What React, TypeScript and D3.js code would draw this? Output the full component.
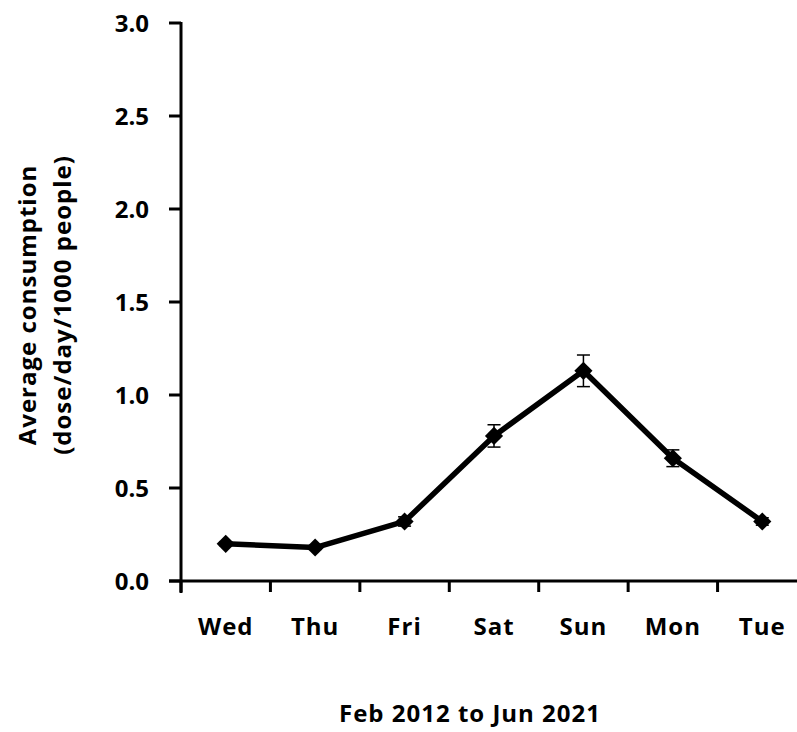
import React from "react";
import * as d3 from "d3";

const days = ["Wed", "Thu", "Fri", "Sat", "Sun", "Mon", "Tue"];
const values = [0.2, 0.18, 0.32, 0.78, 1.13, 0.66, 0.32];
const errors = [0.01, 0.01, 0.025, 0.06, 0.085, 0.045, 0.02];
const yTicks = [0, 0.5, 1.0, 1.5, 2.0, 2.5, 3.0];
const xTitle = "Feb 2012 to Jun 2021";
const yTitle = ["Average consumption", "(dose/day/1000 people)"];

export default function App() {
  const W = 797, H = 732;
  const left = 181, right = 807, top = 23, bottom = 581;
  const x = d3.scaleBand<string>().domain(days).range([left, right]);
  const y = d3.scaleLinear().domain([0, 3]).range([bottom, top]);
  const font = "'Open Sans', sans-serif";
  const fs = 24;
  const ls = 1;
  const cxOf = (i: number) => x(days[i])! + x.bandwidth() / 2;
  const line = d3.line<number>().x((_, i) => cxOf(i)).y((d) => y(d));
  const diamond = d3.symbol().type(d3.symbolSquare).size(165)();
  const boundaries = days.map((d) => x(d)!).concat([right]);
  return (
    <svg width={W} height={H} style={{ position: "absolute", left: 0, top: 0, background: "#fff" }}>
      <rect width={W} height={H} fill="#fff" />
      {/* y axis */}
      <line x1={left} x2={left} y1={top - 1} y2={bottom + 12} stroke="#000" strokeWidth={3} />
      {yTicks.map((t) => (
        <g key={t}>
          <line x1={left - 12} x2={left} y1={y(t)} y2={y(t)} stroke="#000" strokeWidth={3} />
          <text x={149} y={y(t)} dy="0.36em" textAnchor="end" fontFamily={font} fontWeight="bold" fontSize={fs} fill="#000">
            {t.toFixed(1)}
          </text>
        </g>
      ))}
      {/* x axis */}
      <line x1={left - 12} x2={right} y1={bottom} y2={bottom} stroke="#000" strokeWidth={3} />
      {boundaries.map((b, i) => (
        <line key={i} x1={b} x2={b} y1={bottom} y2={bottom + 11} stroke="#000" strokeWidth={3} />
      ))}
      {days.map((d, i) => (
        <text key={d} x={cxOf(i)} y={635} textAnchor="middle" fontFamily={font} fontWeight="bold" fontSize={fs} letterSpacing={ls} fill="#000">
          {d}
        </text>
      ))}
      <text x={470} y={722} textAnchor="middle" fontFamily={font} fontWeight="bold" fontSize={fs} letterSpacing={ls} fill="#000">
        {xTitle}
      </text>
      <g transform="translate(0,305) rotate(-90)">
        <text x={0} y={36} textAnchor="middle" fontFamily={font} fontWeight="bold" fontSize={fs} letterSpacing={ls} fill="#000">{yTitle[0]}</text>
        <text x={0} y={71} textAnchor="middle" fontFamily={font} fontWeight="bold" fontSize={fs} letterSpacing={ls} fill="#000">{yTitle[1]}</text>
      </g>
      {/* error bars */}
      {values.map((v, i) => {
        const cx = cxOf(i);
        return (
          <g key={i} stroke="#000" strokeWidth={1.5}>
            <line x1={cx} x2={cx} y1={y(v + errors[i])} y2={y(v - errors[i])} />
            <line x1={cx - 6.5} x2={cx + 6.5} y1={y(v + errors[i])} y2={y(v + errors[i])} />
            <line x1={cx - 6.5} x2={cx + 6.5} y1={y(v - errors[i])} y2={y(v - errors[i])} />
          </g>
        );
      })}
      <path d={line(values)!} fill="none" stroke="#000" strokeWidth={5.5} strokeLinejoin="round" />
      {values.map((v, i) => (
        <path key={i} d={diamond!} transform={`translate(${cxOf(i)},${y(v)}) rotate(45)`} fill="#000" />
      ))}
    </svg>
  );
}
